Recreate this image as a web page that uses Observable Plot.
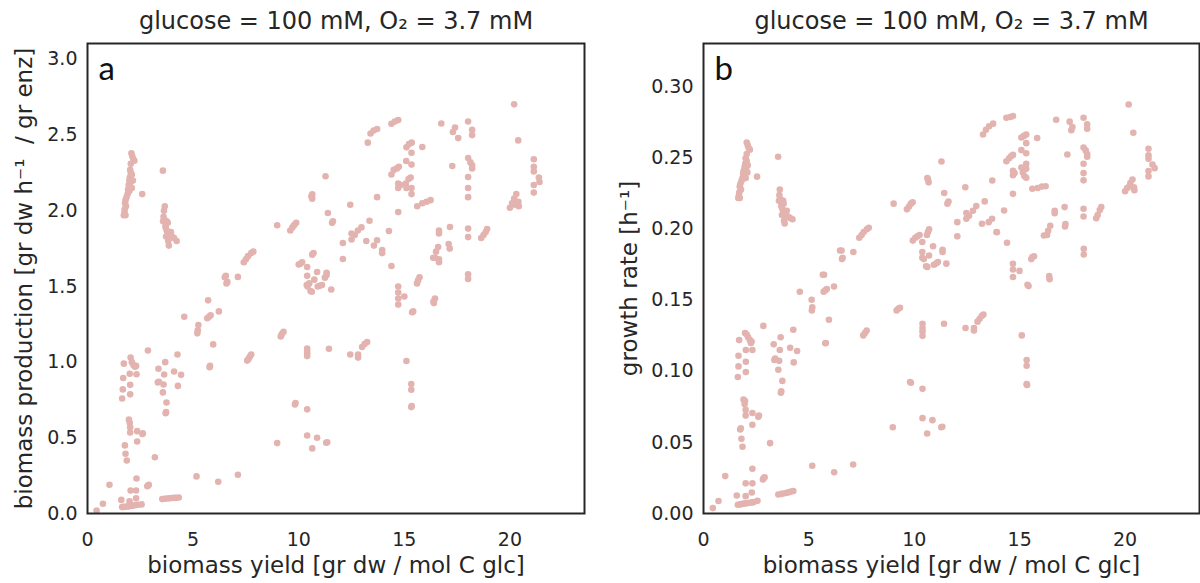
<!DOCTYPE html>
<html><head><meta charset="utf-8">
<script src="https://cdn.jsdelivr.net/npm/d3@7"></script>
<script src="https://cdn.jsdelivr.net/npm/@observablehq/plot@0.6"></script>
<style>
html,body{margin:0;padding:0;background:#fff;}
#wrap{display:flex;width:1200px;height:583px;overflow:hidden;}
</style></head><body><div id="wrap"></div>
<script>
const title = "glucose = 100 mM, O₂ = 3.7 mM";
const xLabel = "biomass yield [gr dw / mol C glc]";
const yLabelA = "biomass production [gr dw h⁻¹  / gr enz]";
const yLabelB = "growth rate [h⁻¹]";
const panelTags = ["a", "b"];
const xTicks = [0, 5, 10, 15, 20];
const yTicksA = [0, 0.5, 1, 1.5, 2, 2.5, 3];
const yTicksB = [0, 0.05, 0.1, 0.15, 0.2, 0.25, 0.3];

// panel a: [biomass yield, biomass production]
const pointsA = [
[2.08,2.38],[2.12,2.36],[2.17,2.34],[2.22,2.33],[2.05,2.31],[2.02,2.27],[2.05,2.25],[2.00,2.22],[1.98,2.20],[2.05,2.19],[1.95,2.17],[1.92,2.14],[1.98,2.13],[1.90,2.11],[1.85,2.09],[1.80,2.07],[1.78,2.05],[1.82,2.03],[1.76,2.01],[1.75,1.99],[1.80,1.97],[1.72,1.97],[2.10,2.15],[2.15,2.20],[2.10,2.24],
[2.59,2.11],[3.57,2.265],
[3.66,2.03],[3.62,2.00],[3.60,1.96],[3.58,1.93],[3.65,1.94],[3.75,1.93],[3.80,1.92],[3.70,1.90],[3.75,1.87],[3.80,1.85],[3.72,1.83],[3.85,1.84],[3.90,1.82],[4.00,1.83],[4.10,1.82],[4.22,1.80],[3.82,1.80],[3.85,1.77],[3.95,1.86],[3.70,1.89],
[0.43,0.02],[0.73,0.064],[1.04,0.19],[1.6,0.09],[1.64,0.042],[1.72,0.044],[1.8,0.045],[1.88,0.046],[1.96,0.048],[2.04,0.05],[2.12,0.052],[2.2,0.054],[2.3,0.056],[2.4,0.058],[1.99,0.08],[2.3,0.1],[2.56,0.06],[2.04,0.152],[2.3,0.152],[2.32,0.231],[2.83,0.18],[2.87,0.185],[2.9,0.19],[3.19,0.372],
[3.54,0.095],[3.65,0.097],[3.76,0.099],[3.88,0.1],[4.0,0.102],[4.1,0.103],[4.2,0.104],[4.32,0.106],
[5.16,0.245],[6.19,0.21],[7.12,0.256],
[1.77,0.45],[1.8,0.395],[1.86,0.35],[1.96,0.62],[2.0,0.6],[2.02,0.57],[2.02,0.535],[2.35,0.544],[2.6,0.525],[2.62,0.53],[2.35,0.476],
[1.64,0.76],[1.67,0.82],[1.69,0.895],[1.72,0.99],[2.02,0.787],[2.02,0.85],[2.0,0.923],[2.32,0.92],[2.04,1.03],[2.1,1.0],[2.18,0.98],[2.25,0.97],[2.3,0.975],[2.86,1.077],
[3.68,1.0],[3.36,0.956],[3.63,0.918],[4.1,0.938],[4.43,0.916],[4.26,1.05],[3.33,0.866],[3.38,0.87],[3.6,0.852],[4.28,0.843],[3.57,0.80],[3.74,0.733],[3.7,0.663],[3.72,0.67],
[4.58,1.30],[5.2,1.19],[5.22,1.21],[5.25,1.245],[5.71,1.408],[5.67,1.29],[5.75,1.30],[5.83,1.31],[6.22,1.335],[5.95,1.117],[5.78,0.967],[5.8,0.975],
[6.5,1.56],[6.55,1.57],[6.58,1.52],[6.62,1.53],[7.12,1.563],[7.4,1.66],[7.5,1.68],[7.6,1.70],[7.75,1.72],[7.85,1.73],
[7.56,1.01],[7.62,1.02],[7.68,1.035],[7.75,1.05],
[8.98,1.904],[8.98,0.465],[9.15,1.17],[9.2,1.185],[9.28,1.2],[9.6,1.87],[9.7,1.89],[9.78,1.905],[9.88,1.92],[9.82,0.72],[9.85,0.73],
[10.0,1.645],[10.08,1.65],[10.16,1.66],[10.4,1.628],[10.64,1.71],[10.7,1.72],[10.64,2.108],[10.64,2.08],[10.6,2.095],
[10.4,1.57],[10.38,1.51],[10.42,1.5],[10.5,1.52],[10.56,1.47],[10.62,1.465],[10.74,1.545],[10.87,1.595],[10.9,1.50],[11.0,1.505],[11.1,1.51],[11.24,1.558],[11.32,1.59],[11.32,1.575],[11.54,1.48],
[10.4,1.09],[10.4,1.07],[10.4,1.055],[10.4,1.04],[11.43,1.088],[10.4,0.688],[10.4,0.515],[10.87,0.5],[11.3,0.467],[11.35,0.47],[10.64,0.43],
[11.27,2.228],[11.38,1.985],[11.58,1.92],[11.62,1.93],
[13.27,2.45],[13.4,2.51],[13.55,2.53],[13.71,2.54],[14.39,2.575],[14.55,2.59],[14.71,2.6],[16.75,2.576],[17.3,2.52],[17.4,2.55],[17.55,2.48],[18.02,2.59],[18.21,2.535],[18.21,2.5],[20.2,2.703],[20.39,2.465],
[15.1,2.42],[15.22,2.44],[15.35,2.45],[15.85,2.421],[15.34,2.383],[15.09,2.329],[15.34,2.305],[17.27,2.296],[18.02,2.348],[18.13,2.32],[18.21,2.30],[18.21,2.28],[18.02,2.223],[18.02,2.15],[18.02,2.09],
[14.39,2.24],[14.5,2.27],[14.65,2.28],[14.74,2.29],[14.71,2.18],[14.71,2.15],[14.82,2.17],[15.07,2.18],[15.1,2.15],[15.2,2.21],[15.34,2.15],[15.34,2.11],[15.3,2.22],
[13.71,2.09],[15.61,2.03],[15.85,2.05],[16.05,2.06],[16.24,2.07],[12.44,2.04],[14.71,1.991],
[12.5,1.85],[12.65,1.84],[12.8,1.87],[12.97,1.89],[13.35,1.934],[12.09,1.787],[12.5,1.81],[13.2,1.80],[13.56,1.77],[13.71,1.805],[13.95,1.74],[13.95,1.72],[14.27,1.866],[12.09,1.681],[14.39,1.635],
[17.16,1.893],[16.64,1.87],[16.64,1.85],[18.02,1.882],[18.02,1.826],[18.64,1.82],[18.75,1.84],[18.85,1.86],[18.92,1.88],
[16.37,1.69],[16.45,1.69],[16.5,1.73],[16.6,1.76],[17.1,1.78],[17.15,1.75],[16.64,1.68],[16.64,1.66],[18.02,1.58],[18.02,1.55],
[15.6,1.52],[15.65,1.54],[15.72,1.56],[14.71,1.50],[14.71,1.46],[14.71,1.42],[14.71,1.38],[15.0,1.434],[15.37,1.33],[15.42,1.335],[16.4,1.39],[16.45,1.42],[16.38,1.40],
[13.24,1.133],[13.12,1.12],[13.0,1.10],[12.44,1.05],[12.81,1.05],[12.81,1.03],[15.1,1.007],[15.33,0.855],[15.33,0.818],[15.33,0.703],[15.35,0.71],
[20.0,2.02],[20.1,2.05],[20.2,2.08],[20.3,2.11],[20.4,2.06],[20.42,2.03],[20.25,2.04],
[21.13,2.34],[21.13,2.29],[21.13,2.26],[21.37,2.22],[21.4,2.19],[21.13,2.17],[21.13,2.12]
];

// panel b: [biomass yield, growth rate]
const pointsB = [
[2.05,0.261],[2.1,0.259],[2.15,0.257],[2.2,0.256],[2.05,0.253],[2.0,0.250],[2.05,0.248],[1.98,0.246],[1.95,0.244],[2.02,0.243],[1.9,0.241],[1.88,0.239],[1.95,0.238],[1.85,0.236],[1.8,0.234],[1.75,0.232],[1.72,0.230],[1.78,0.228],[1.7,0.226],[1.68,0.224],[1.72,0.222],[1.65,0.222],[2.08,0.240],[2.1,0.245],[2.0,0.236],
[2.54,0.237],[3.54,0.251],
[3.62,0.228],[3.6,0.224],[3.58,0.220],[3.65,0.221],[3.75,0.220],[3.8,0.218],[3.7,0.216],[3.75,0.214],[3.8,0.212],[3.72,0.210],[3.85,0.211],[3.9,0.209],[4.0,0.209],[4.1,0.208],[4.22,0.207],[3.82,0.206],[3.85,0.204],[3.95,0.213],[3.7,0.217],[3.78,0.22],
[0.44,0.0038],[0.71,0.0088],[1.03,0.0263],[1.58,0.0127],[1.63,0.0062],[1.72,0.0064],[1.8,0.0066],[1.88,0.0068],[1.96,0.007],[2.04,0.0072],[2.12,0.0074],[2.2,0.0076],[2.3,0.0078],[2.37,0.008],[2.56,0.009],[2.0,0.0122],[2.29,0.0148],[2.0,0.0212],[2.32,0.0212],[2.32,0.0315],[2.82,0.024],[2.86,0.025],[2.9,0.0255],[3.16,0.0495],
[3.55,0.0134],[3.7,0.0138],[3.85,0.0142],[3.95,0.0146],[4.05,0.015],[4.15,0.0154],[4.26,0.0158],
[5.16,0.0336],[6.2,0.029],[7.1,0.0345],
[1.74,0.0591],[1.77,0.06],[1.8,0.0526],[1.85,0.047],[1.9,0.0801],[1.97,0.0792],[1.95,0.077],[2.0,0.0729],[2.0,0.0689],[2.32,0.0707],[2.6,0.068],[2.63,0.069],[2.32,0.0624],
[1.69,0.122],[1.66,0.111],[1.66,0.1035],[1.63,0.096],[2.01,0.115],[2.01,0.1068],[2.01,0.0995],[1.97,0.127],[2.05,0.126],[2.12,0.124],[2.2,0.122],[2.28,0.121],[2.25,0.12],[2.32,0.115],[2.84,0.132],
[3.33,0.119],[3.66,0.124],[3.62,0.115],[3.36,0.108],[3.4,0.109],[3.59,0.1074],[3.55,0.1011],[3.74,0.0933],[3.67,0.085],[3.69,0.086],[4.11,0.1166],[4.44,0.1143],[4.26,0.1293],[4.28,0.1063],
[4.57,0.156],[5.13,0.1504],[5.16,0.145],[5.14,0.1428],[5.7,0.156],[5.78,0.157],[5.85,0.158],[6.19,0.1597],[5.95,0.1363],[5.78,0.1198],[5.8,0.12],[5.66,0.168],[5.72,0.168],
[6.48,0.185],[6.55,0.185],[6.57,0.179],[6.6,0.18],[7.11,0.184],[7.39,0.194],[7.5,0.196],[7.6,0.198],[7.75,0.2],[7.84,0.201],
[7.58,0.1253],[7.66,0.127],[7.74,0.1288],
[9.02,0.218],[8.98,0.0607],[9.16,0.1428],[9.24,0.144],[9.32,0.1447],[9.65,0.214],[9.75,0.216],[9.84,0.218],[9.92,0.219],[9.8,0.0925],[9.84,0.092],
[9.93,0.192],[10.05,0.194],[10.15,0.195],[10.25,0.196],[10.65,0.235],[10.68,0.233],[10.62,0.236],[10.65,0.198],[10.6,0.196],[10.7,0.2],
[10.38,0.191],[10.38,0.184],[10.38,0.18],[10.45,0.179],[10.56,0.174],[10.62,0.1735],[10.7,0.1815],[10.89,0.188],[10.93,0.175],[11.05,0.176],[11.12,0.177],[11.34,0.1855],[11.34,0.184],[11.52,0.1758],
[10.39,0.1335],[10.39,0.1305],[10.39,0.128],[10.39,0.125],[11.41,0.1335],[10.39,0.0877],[10.39,0.0671],[10.86,0.0657],[11.28,0.0607],[11.33,0.061],[10.61,0.0563],
[11.29,0.2477],[11.42,0.2255],[11.62,0.2195],[11.57,0.218],
[13.26,0.2667],[13.4,0.27],[13.55,0.2725],[13.74,0.2743],[14.37,0.2785],[14.55,0.279],[14.68,0.2796],[16.73,0.277],[17.37,0.2757],[17.45,0.2697],[17.5,0.272],[18.03,0.2785],[18.2,0.2738],[18.2,0.2707],[20.17,0.2878],[20.39,0.2679],
[15.08,0.2646],[15.2,0.2657],[15.31,0.2667],[15.83,0.2642],[15.31,0.2606],[15.08,0.2557],[15.31,0.2535],[17.26,0.2526],[18.03,0.2575],[18.13,0.2555],[18.2,0.2530],[18.2,0.2511],[18.03,0.2461],[18.03,0.2395],[18.03,0.2344],
[14.37,0.2479],[14.5,0.25],[14.6,0.2515],[14.68,0.2523],[14.68,0.2412],[14.68,0.238],[14.76,0.2395],[15.08,0.2435],[15.15,0.24],[15.22,0.2375],[15.31,0.2461],[15.31,0.2425],[15.31,0.2362],
[13.7,0.2343],[15.6,0.2285],[15.85,0.229],[16.05,0.23],[16.23,0.2303],[12.42,0.2296],[14.68,0.2249],
[12.47,0.2114],[12.6,0.2095],[12.78,0.2130],[12.94,0.2163],[13.34,0.2196],[12.04,0.2050],[12.47,0.2074],[13.21,0.2039],[13.53,0.205],[13.69,0.2074],[13.9,0.1981],[13.92,0.1979],[14.26,0.2132],[12.04,0.1950],[14.4,0.1905],
[17.13,0.2156],[16.66,0.2113],[16.66,0.213],[18.03,0.2144],[18.03,0.209],[18.63,0.2077],[18.7,0.21],[18.8,0.2135],[18.87,0.2156],
[16.15,0.1956],[16.3,0.196],[16.35,0.199],[16.45,0.2025],[17.15,0.2019],[17.17,0.2037],[16.42,0.1649],[16.4,0.167],[18.04,0.1862],[18.04,0.1822],
[15.55,0.179],[15.6,0.1805],[15.68,0.181],[14.68,0.1757],[14.68,0.1717],[14.68,0.1664],[14.99,0.1707],[15.37,0.161],[15.42,0.160],
[13.28,0.14],[13.2,0.139],[13.1,0.137],[13.0,0.135],[12.43,0.1305],[12.83,0.1305],[12.83,0.1287],[15.1,0.1253],[15.33,0.108],[15.33,0.104],[15.33,0.091],[15.35,0.0905],
[20.0,0.2267],[20.1,0.229],[20.25,0.2325],[20.35,0.235],[20.42,0.2295],[20.44,0.2275],[20.2,0.23],
[21.11,0.2566],[21.11,0.252],[21.11,0.2496],[21.3,0.2456],[21.4,0.243],[21.11,0.241],[21.11,0.2372]
];

const ink = "#262626";
const dotColor = "#e3b3b0";
const font = "'DejaVu Sans', sans-serif";

function panel({points, yTicks, yFormat, yMax, yLabel, tag, marginLeft, marginRight, yLabelDx}) {
  return Plot.plot({
    width: 600,
    height: 583,
    marginLeft, marginRight,
    marginTop: 43,
    marginBottom: 70,
    style: {fontFamily: font, fontSize: "19px", color: ink, background: "#fff", overflow: "visible"},
    x: {domain: [0, 23.53]},
    y: {domain: [0, yMax]},
    marks: [
      Plot.dot(points, {x: d => d[0], y: d => d[1], r: 3.3, fill: dotColor, stroke: "none"}),
      Plot.frame({stroke: ink, strokeWidth: 2}),
      Plot.axisX({ticks: xTicks, tickFormat: d3.format("d"), tickSize: 0, tickPadding: 19, label: null, fontSize: 19, fill: ink}),
      Plot.axisY({ticks: yTicks, tickFormat: d3.format(yFormat), tickSize: 0, tickPadding: 10, label: null, fontSize: 19, fill: ink}),
      Plot.text([xLabel], {text: d => d, frameAnchor: "bottom", dy: 59, fontSize: 23, fill: ink}),
      Plot.text([yLabel], {text: d => d, frameAnchor: "left", textAnchor: "middle", dx: yLabelDx, rotate: -90, fontSize: 23, fill: ink}),
      Plot.text([title], {text: d => d, frameAnchor: "top", dy: -15, lineAnchor: "bottom", fontSize: 24, fill: ink}),
      Plot.text([tag], {text: d => d, frameAnchor: "top-left", dx: 11, dy: 36, lineAnchor: "bottom", textAnchor: "start", fontSize: 33, fontFamily: "Lato, sans-serif", fill: "#111"})
    ]
  });
}

const wrap = document.getElementById("wrap");
wrap.append(panel({points: pointsA, yTicks: yTicksA, yFormat: ".1f", yMax: 3.105, yLabel: yLabelA, tag: panelTags[0], marginLeft: 87, marginRight: 16, yLabelDx: -63}));
wrap.append(panel({points: pointsB, yTicks: yTicksB, yFormat: ".2f", yMax: 0.3307, yLabel: yLabelB, tag: panelTags[1], marginLeft: 103, marginRight: 1, yLabelDx: -74}));
</script></body></html>
